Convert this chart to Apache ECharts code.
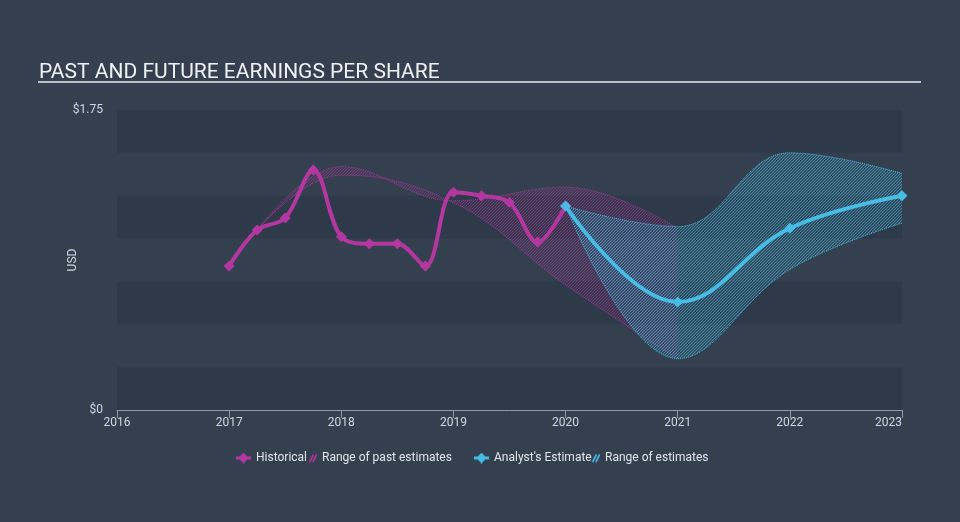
<!DOCTYPE html>
<html><head><meta charset="utf-8">
<script src="https://cdn.jsdelivr.net/npm/echarts@6/dist/echarts.min.js"></script>
<style>html,body{margin:0;padding:0;background:#344050;}#c{width:960px;height:522px;}</style>
</head><body><div id="c"></div>
<script>
// ---- data ----
const histX = [2017, 2017.25, 2017.5, 2017.75, 2018, 2018.25, 2018.5, 2018.75, 2019, 2019.25, 2019.5, 2019.75, 2020];
const histY = [0.84, 1.05, 1.12, 1.40, 1.01, 0.97, 0.97, 0.84, 1.27, 1.25, 1.21, 0.98, 1.19];
const pastX = [2017.25, 2018, 2019, 2020, 2021];
const pastLow = [1.05, 1.37, 1.21, 0.73, 0.30];
const pastHigh = [1.05, 1.42, 1.22, 1.30, 1.06];
const estX = [2020, 2021, 2022, 2023];
const estY = [1.19, 0.63, 1.06, 1.25];
const estLow = [1.19, 0.30, 0.82, 1.09];
const estHigh = [1.19, 1.07, 1.50, 1.38];
const yTickLabels = { '0': '$0', '1.75': '$1.75' };
const xMin = 2016, xMax = 2023;

// ---- styles ----
const MAG = '#b3379f', CYA = '#47bde6';
function hatch(rgb, baseA, lineA) {
  const n = 3;
  const c = document.createElement('canvas'); c.width = n; c.height = n;
  const ctx = c.getContext('2d');
  ctx.fillStyle = 'rgba(' + rgb + ',' + baseA + ')'; ctx.fillRect(0, 0, n, n);
  ctx.fillStyle = 'rgba(' + rgb + ',' + lineA + ')';
  for (let i = 0; i < n; i++) ctx.fillRect(i, n - 1 - i, 1, 1);
  return c;
}
function hatchIcon(color) {
  const c = document.createElement('canvas'); c.width = 8; c.height = 11;
  const ctx = c.getContext('2d'); ctx.strokeStyle = color; ctx.lineWidth = 1.6;
  ctx.beginPath();
  ctx.moveTo(0.5, 9.5); ctx.lineTo(4.5, 2);
  ctx.moveTo(3.8, 9.5); ctx.lineTo(7.8, 2);
  ctx.stroke(); return 'image://' + c.toDataURL();
}
function lineIcon(color) {
  const c = document.createElement('canvas'); c.width = 15; c.height = 11;
  const ctx = c.getContext('2d'); ctx.fillStyle = color;
  ctx.fillRect(0, 4, 15, 3);
  ctx.beginPath(); ctx.moveTo(7.5, 0); ctx.lineTo(12.5, 5.5); ctx.lineTo(7.5, 11); ctx.lineTo(2.5, 5.5); ctx.closePath(); ctx.fill();
  return 'image://' + c.toDataURL();
}
const pair = (xs, ys) => xs.map((x, i) => [x, ys[i]]);
// rows as [value, x] so that the stacked dimension is the value (y) one
const rowsYX = (xs, ys) => xs.map((x, i) => [ys[i], x]);
const rowsDiff = (xs, lo, hi) => xs.map((x, i) => [+(hi[i] - lo[i]).toFixed(4), x]);
const YX = { x: 1, y: 0 };

const chart = echarts.init(document.getElementById('c'), null, { renderer: 'canvas' });
const txt = '#d3d7dc';
const legendBase = { top: 452, padding: 0, itemHeight: 11, textStyle: { color: '#e2e5e8', fontSize: 12, fontFamily: 'Roboto' }, selectedMode: false };
chart.setOption({
  backgroundColor: '#344050',
  animation: false,
  title: { text: 'PAST AND FUTURE EARNINGS PER SHARE', left: 34, top: 57, textStyle: { color: '#f0f1f3', fontSize: 21, fontWeight: 'normal', fontFamily: 'Roboto' } },
  graphic: [{ type: 'line', shape: { x1: 38, y1: 82, x2: 921, y2: 82 }, style: { stroke: '#b9bec4', lineWidth: 2 } }],
  legend: [
    Object.assign({}, legendBase, { left: 236, itemWidth: 15, data: [{ name: 'Historical', icon: lineIcon(MAG) }] }),
    Object.assign({}, legendBase, { left: 309, itemWidth: 8, data: [{ name: 'Range of past estimates', icon: hatchIcon(MAG) }] }),
    Object.assign({}, legendBase, { left: 474, itemWidth: 15, data: [{ name: "Analyst's Estimate", icon: lineIcon(CYA) }] }),
    Object.assign({}, legendBase, { left: 592, itemWidth: 8, data: [{ name: 'Range of estimates', icon: hatchIcon(CYA) }] })
  ],
  grid: { left: 117, right: 58, top: 110, bottom: 112 },
  xAxis: {
    type: 'value', min: xMin, max: xMax, interval: 1,
    axisLine: { lineStyle: { color: '#8f9aa6', width: 1 } },
    axisTick: { show: true, length: 8, lineStyle: { color: '#8f9aa6' } },
    axisLabel: { color: txt, fontSize: 12, fontFamily: 'Roboto', margin: 7, alignMaxLabel: 'right', formatter: v => String(v) },
    splitLine: { show: false }
  },
  yAxis: {
    type: 'value', min: 0, max: 1.75, interval: 0.25,
    name: 'USD', nameLocation: 'middle', nameRotate: 90, nameGap: 38, nameMoveOverlap: false,
    nameTextStyle: { color: txt, fontSize: 12, fontFamily: 'Roboto' },
    axisLine: { show: false }, axisTick: { show: false },
    axisLabel: { color: txt, fontSize: 12, fontFamily: 'Roboto', margin: 14, formatter: v => yTickLabels[String(v)] || '' },
    splitLine: { show: false },
    splitArea: { show: true, areaStyle: { color: ['#2e3a4a', 'rgba(0,0,0,0)'] } }
  },
  series: [
    { name: 'pastLow', type: 'line', stack: 'past', data: rowsYX(pastX, pastLow), encode: YX, smooth: 0.4, showSymbol: false, silent: true,
      lineStyle: { type: 'dotted', width: 1, color: MAG, opacity: 0.8 }, z: 2 },
    { name: 'Range of past estimates', type: 'line', stack: 'past', data: rowsDiff(pastX, pastLow, pastHigh), encode: YX, smooth: 0.4, showSymbol: false, silent: true,
      itemStyle: { color: MAG },
      lineStyle: { type: 'dotted', width: 1, color: MAG, opacity: 0.8 },
      areaStyle: { color: { image: hatch('179,55,159', 0.06, 0.5), repeat: 'repeat' }, opacity: 1 }, z: 2 },
    { name: 'estLow', type: 'line', stack: 'est', data: rowsYX(estX, estLow), encode: YX, smooth: 0.4, showSymbol: false, silent: true,
      lineStyle: { type: 'dotted', width: 1, color: CYA, opacity: 0.9 }, z: 3 },
    { name: 'Range of estimates', type: 'line', stack: 'est', data: rowsDiff(estX, estLow, estHigh), encode: YX, smooth: 0.4, showSymbol: false, silent: true,
      itemStyle: { color: CYA },
      lineStyle: { type: 'dotted', width: 1, color: CYA, opacity: 0.9 },
      areaStyle: { color: { image: hatch('71,189,230', 0.13, 0.5), repeat: 'repeat' }, opacity: 1 }, z: 3 },
    { name: 'Historical', type: 'line', data: pair(histX, histY), smooth: 0.35, symbol: 'diamond', symbolSize: 11, showSymbol: true,
      itemStyle: { color: MAG }, lineStyle: { width: 4, color: MAG }, z: 5 },
    { name: "Analyst's Estimate", type: 'line', data: pair(estX, estY), smooth: 0.4, symbol: 'diamond', symbolSize: 11, showSymbol: true,
      itemStyle: { color: CYA }, lineStyle: { width: 4, color: CYA }, z: 6 }
  ]
});
</script>
</body></html>
